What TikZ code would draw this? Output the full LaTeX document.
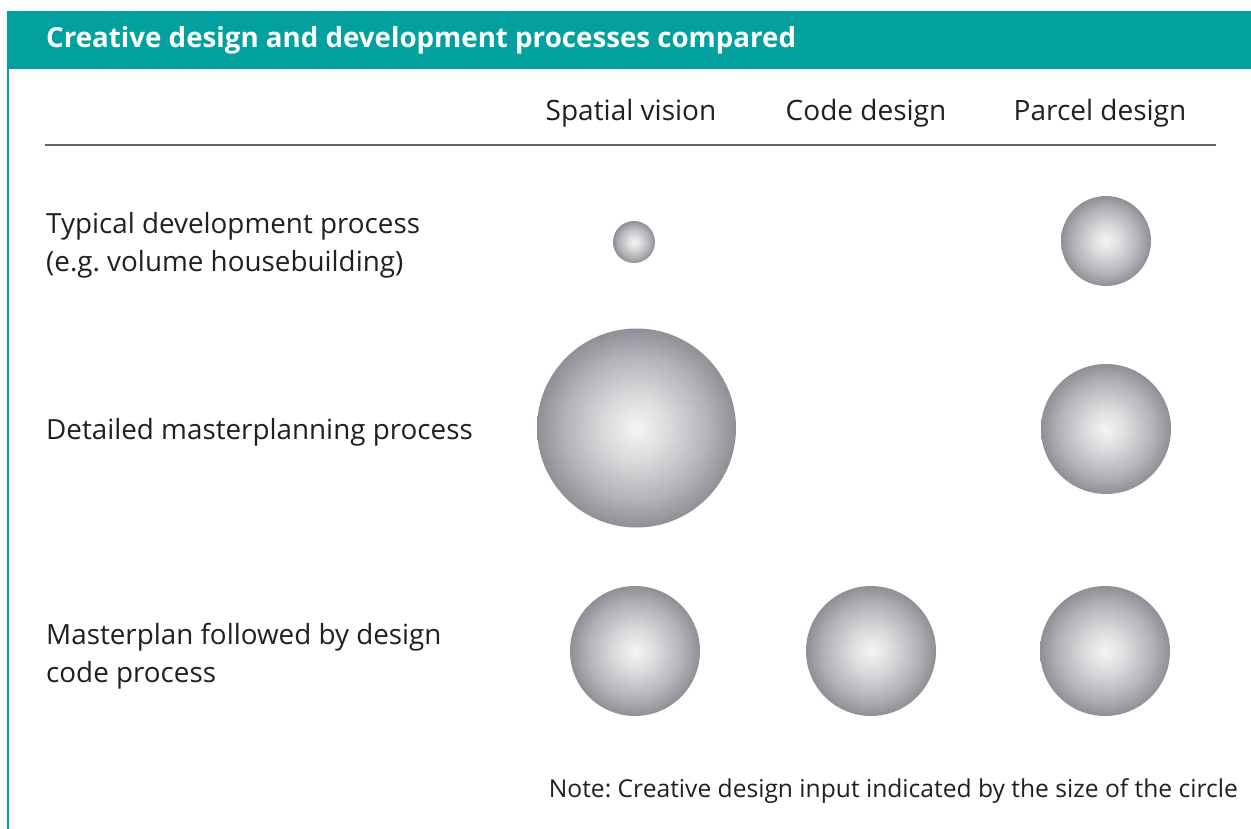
\documentclass[tikz,border=0pt]{standalone}
\usepackage{fontspec}
\setmainfont{Open Sans}
\frenchspacing
\definecolor{teal1}{HTML}{02A09F}
\definecolor{txt}{HTML}{231F20}
\definecolor{rule}{HTML}{666666}
\pgfdeclareradialshading{sphere}{\pgfpointorigin}{rgb(0bp)=(0.96,0.96,0.96); rgb(8bp)=(0.86,0.86,0.87); rgb(18bp)=(0.70,0.70,0.72); rgb(25bp)=(0.56,0.565,0.585); rgb(50bp)=(0.56,0.565,0.585)}
\begin{document}
\begin{tikzpicture}[x=1pt,y=-1pt,
  ball/.style={circle,inner sep=0pt,minimum size=#1,shading=sphere},
  lbl/.style={anchor=base west,text=txt,font=\fontsize{27.8}{38}\selectfont,align=left,inner sep=0pt},
  col/.style={anchor=base,text=txt,font=\fontsize{28}{30}\selectfont,inner sep=0pt}]
\useasboundingbox (0,0) rectangle (1251,829);
\fill[white] (0,0) rectangle (1251,829);
\fill[teal1] (7,11) rectangle (1251,69);
\draw[teal1,line width=1.5pt] (7.75,69) -- (7.75,829);
\node[anchor=base west,text=white,font=\fontsize{27.7}{30}\selectfont\bfseries,inner sep=0pt] (title) at (46,48) {Creative design and development processes compared};
\node[col] (h1) at (631,121) {Spatial vision};
\node[col] (h2) at (866,121) {Code design};
\node[col] (h3) at (1100,121) {Parcel design};
\draw[rule,line width=2pt] (45,145) -- (1216,145);
\node[lbl] (r1) at (46,272) {Typical development process\\(e.g. volume housebuilding)};
\node[lbl] (r2) at (46,439) {Detailed masterplanning process};
\node[lbl] (r3) at (46,682) {Masterplan followed by design\\code process};
\node[ball=42pt] (c11) at (634,242) {};
\node[ball=90pt] (c13) at (1106,241) {};
\node[ball=199pt] (c21) at (636.5,428) {};
\node[ball=130pt] (c23) at (1106,429) {};
\node[ball=130pt] (c31) at (635,651) {};
\node[ball=130pt] (c32) at (871,651) {};
\node[ball=130pt] (c33) at (1105,651) {};
\node[anchor=base east,text=txt,font=\fontsize{24.6}{28}\selectfont,inner sep=0pt] (note) at (1238,797) {Note: Creative design input indicated by the size of the circle};
\end{tikzpicture}
\end{document}
